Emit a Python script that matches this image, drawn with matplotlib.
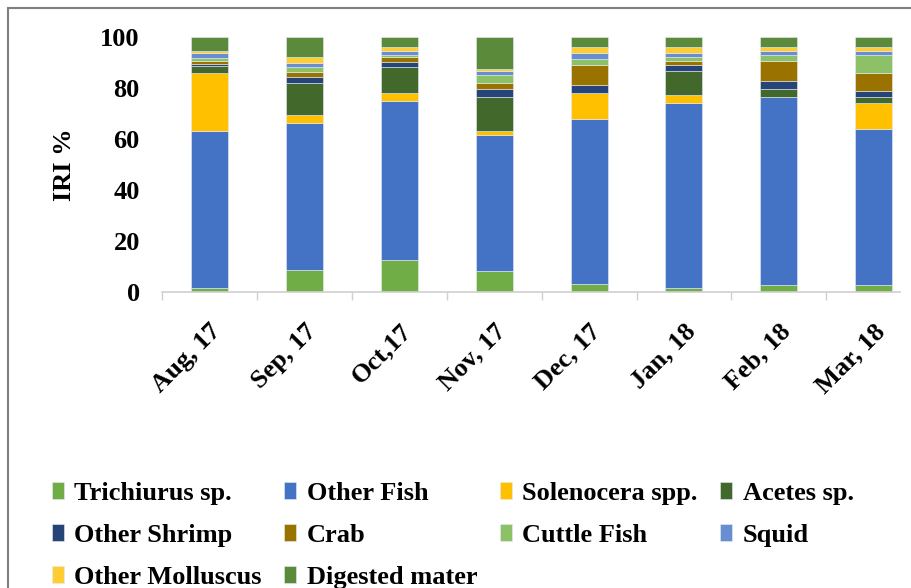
import matplotlib
matplotlib.use("Agg")
import matplotlib.pyplot as plt
from matplotlib.patches import Rectangle
import numpy as np

months = ["Aug, 17", "Sep, 17", "Oct,17", "Nov, 17", "Dec, 17", "Jan, 18", "Feb, 18", "Mar, 18"]

trichiurus = [1.7, 8.8, 12.7, 8.1, 3.3, 1.7, 2.6, 2.6]
other_fish = [61.4, 57.4, 62.3, 53.5, 64.4, 72.3, 73.9, 61.3]
solenocera = [22.9, 3.2, 3.0, 1.5, 10.3, 3.3, 0.0, 10.1]
acetes = [2.7, 12.7, 10.4, 13.5, 0.0, 9.4, 3.1, 2.5]
other_shrimp = [0.6, 2.3, 1.7, 3.0, 3.2, 2.3, 3.1, 2.3]
crab = [1.4, 1.8, 2.2, 2.5, 7.8, 1.7, 7.9, 6.9]
cuttle_fish = [0.9, 2.2, 0.8, 3.0, 2.5, 1.5, 2.3, 7.2]
squid = [2.3, 1.5, 1.5, 1.6, 2.4, 1.7, 1.7, 1.7]
other_molluscus = [0.8, 2.2, 1.5, 0.6, 2.2, 2.2, 1.5, 1.5]
digested = [5.3, 7.9, 3.9, 12.7, 3.9, 3.9, 3.9, 3.9]

series_names = ["Trichiurus sp.", "Other Fish", "Solenocera spp.", "Acetes sp.",
                "Other Shrimp", "Crab", "Cuttle Fish", "Squid",
                "Other Molluscus", "Digested mater"]
series_vals = [trichiurus, other_fish, solenocera, acetes, other_shrimp, crab,
               cuttle_fish, squid, other_molluscus, digested]
colors = ["#70ad47", "#4472c4", "#ffc000", "#43682b", "#264478", "#9a7200",
          "#8cc168", "#698ed0", "#ffcd33", "#5a8a3a"]

W, H = 912, 588
fig = plt.figure(figsize=(W / 100, H / 100), dpi=100)
font = "Liberation Serif"
plt.rcParams["font.family"] = [font, "DejaVu Serif"]
FS = 19

ax = fig.add_axes([162 / W, 1 - 292 / H, 738 / W, 255 / H])
x = np.arange(len(months))
bottom = np.zeros(len(months))
handles = []
for name, vals, c in zip(series_names, series_vals, colors):
    v = np.array(vals)
    b = ax.bar(x, v, width=0.39, bottom=bottom, color=c, label=name,
               edgecolor="#e6ecf5", linewidth=0.4)
    handles.append(b)
    bottom += v

ax.set_xlim(-0.5, -0.5 + 738 / 94.9)
ax.set_ylim(0, 100)
ax.set_yticks([0, 20, 40, 60, 80, 100])
ax.tick_params(axis="y", length=0, pad=16, labelsize=FS)
for lab in ax.get_yticklabels():
    lab.set_fontweight("bold")

ax.set_xticks(x)
ax.set_xticklabels(months, rotation=45, ha="right", va="top",
                   rotation_mode="anchor", fontsize=FS, fontweight="bold")
ax.tick_params(axis="x", which="major", length=0, pad=20)
ax.set_xticks(np.arange(-0.5, 7.5, 1.0), minor=True)
ax.tick_params(axis="x", which="minor", length=6, color="#d0d0d0", width=1)

for s in ["top", "right", "left"]:
    ax.spines[s].set_visible(False)
ax.spines["bottom"].set_color("#d0d0d0")
ax.spines["bottom"].set_linewidth(1.2)

fig.text(65 / W, 1 - 165 / H, "IRI %", rotation=90, ha="center", va="center",
         fontsize=FS, fontweight="bold")

# legend in row-major order
order = [0, 4, 8, 1, 5, 9, 2, 6, 3, 7]
leg = fig.legend([handles[i] for i in order], [series_names[i] for i in order],
                 ncol=4, loc="upper left", bbox_to_anchor=(52 / W, 1 - 482 / H),
                 frameon=False, prop={"family": font, "weight": "bold", "size": FS},
                 handlelength=0.45, handleheight=0.6, handletextpad=0.4,
                 columnspacing=0.85, labelspacing=0.72, borderpad=0, borderaxespad=0)

fig.patches.append(Rectangle((8 / W, -0.1), 1.2, 1 - 8 / H + 0.1, transform=fig.transFigure,
                             fill=False, edgecolor="#7f7f7f", linewidth=1.5))

fig.savefig("out.png", dpi=100)
